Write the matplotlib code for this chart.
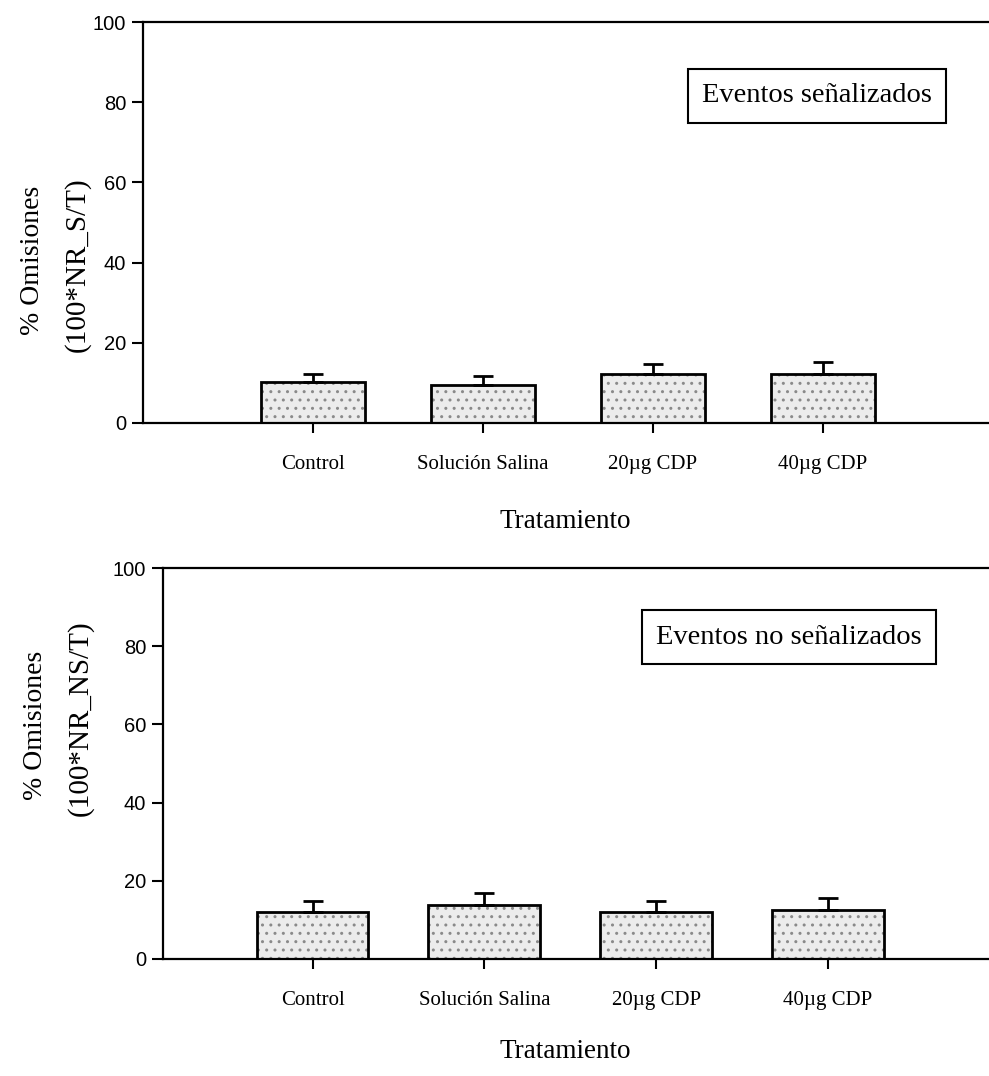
import matplotlib.pyplot as plt
import numpy as np

plt.rcParams['font.family'] = ['Liberation Serif', 'DejaVu Serif']

tratamientos = ['Control', 'Solución Salina', '20µg CDP', '40µg CDP']

# eventos señalizados
senal_media = [10.3, 9.5, 12.2, 12.2]
senal_err = [1.8, 2.3, 2.4, 3.1]

# eventos no señalizados
nosenal_media = [12.0, 13.7, 12.0, 12.5]
nosenal_err = [2.8, 3.3, 2.8, 3.0]

W, H = 989, 1076
fig = plt.figure(figsize=(W / 100, H / 100), dpi=100)


def px_axes(left, right, top, bottom):
    return fig.add_axes([left / W, 1 - bottom / H, (right - left) / W, (bottom - top) / H])


def panel(ax, medias, errs, xlim, width):
    x = np.arange(len(tratamientos))
    # stipple fill, then outline on top
    ax.bar(x, medias, width=width, color='#ececec', hatch='..', edgecolor='#8a8a8a',
           linewidth=0, zorder=2)
    ax.bar(x, medias, width=width, fill=False, edgecolor='black', linewidth=2, zorder=3)
    ax.errorbar(x, medias, yerr=[np.zeros(len(errs)), errs], fmt='none', ecolor='black',
                elinewidth=2, capsize=7, capthick=2, zorder=4)
    ax.set_xlim(*xlim)
    ax.set_ylim(0, 100)
    ax.set_yticks([0, 20, 40, 60, 80, 100])
    ax.set_xticks(x)
    ax.set_xticklabels(tratamientos, fontsize=15)
    for lab in ax.get_yticklabels():
        lab.set_fontfamily('Liberation Sans')
        lab.set_fontsize(14.5)
    ax.tick_params(axis='y', direction='out', length=8, width=1.5, pad=4)
    ax.tick_params(axis='x', direction='out', length=7, width=1.5, pad=16)
    ax.spines['right'].set_visible(False)
    for s in ['left', 'bottom', 'top']:
        ax.spines[s].set_linewidth(1.6)


box = dict(boxstyle='square,pad=0.5', facecolor='white', edgecolor='black', linewidth=1.5)

# top panel
ax1 = px_axes(143, 993, 22, 423)
panel(ax1, senal_media, senal_err, (-1.0, 4.0), 0.61)
fig.text(817 / W, 1 - 96 / H, 'Eventos señalizados', fontsize=20.5, ha='center', va='center',
         bbox=box)
fig.text(33 / W, 1 - 260 / H, '% Omisiones', fontsize=20, rotation=90, ha='center', va='center')
fig.text(77 / W, 1 - 265 / H, '(100*NR_S/T)', fontsize=21, rotation=90, ha='center', va='center')
fig.text(565 / W, 1 - 522 / H, 'Tratamiento', fontsize=19.5, ha='center', va='center')

# bottom panel
ax2 = px_axes(163, 993, 568, 959)
panel(ax2, nosenal_media, nosenal_err, (-0.87, 3.96), 0.65)
fig.text(789 / W, 1 - 637 / H, 'Eventos no señalizados', fontsize=20.5, ha='center', va='center',
         bbox=box)
fig.text(36 / W, 1 - 725 / H, '% Omisiones', fontsize=20, rotation=90, ha='center', va='center')
fig.text(80 / W, 1 - 718 / H, '(100*NR_NS/T)', fontsize=21, rotation=90, ha='center', va='center')
fig.text(565 / W, 1 - 1052 / H, 'Tratamiento', fontsize=19.5, ha='center', va='center')

fig.savefig('out.png', dpi=100)
